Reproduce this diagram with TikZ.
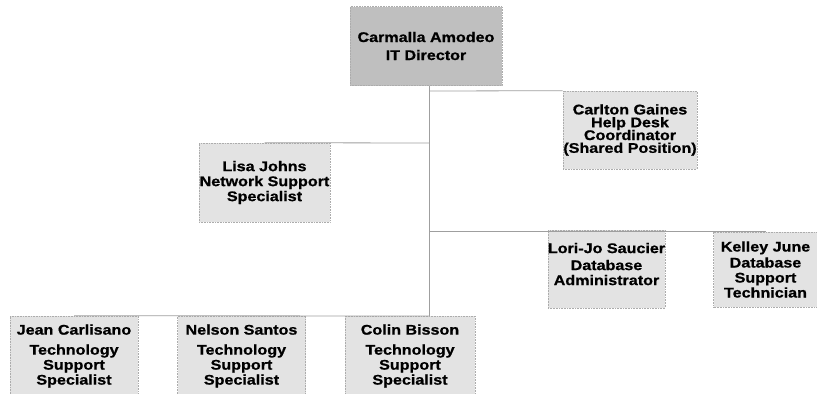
\documentclass[tikz,border=0pt]{standalone}
\usepackage{fontspec}
\newfontfamily\orgfont{Liberation Sans}[FakeStretch=1.15,BoldFeatures={FakeBold=0.8}]
\newcommand\orgtext{\orgfont\bfseries\fontsize{14bp}{15bp}\selectfont\setlength{\lineskiplimit}{-20bp}}
\newcommand\orgtight{\orgfont\bfseries\fontsize{14bp}{12.8bp}\selectfont\setlength{\lineskiplimit}{-20bp}}
\begin{document}
\begin{tikzpicture}[x=1bp,y=-1bp,
  box/.style={draw=gray!65, densely dotted, line width=0.6bp, fill=gray!22,
    inner sep=0pt, align=center, text=black, font=\orgtext},
  headbox/.style={box, fill=gray!50},
  conn/.style={draw=gray!75, line width=0.8bp}]
\useasboundingbox (0,0) rectangle (817,393);
\fill[white] (0,0) rectangle (817,393);

\node[headbox, minimum width=152bp, minimum height=79bp] (dir) at (426,46)
  {Carmalla Amodeo\\[3bp]IT Director};
\node[box, font=\orgtight, minimum width=134bp, minimum height=78bp] (carl) at (630,130)
  {Carlton Gaines\\Help Desk\\Coordinator\\(Shared Position)};
\node[box, minimum width=131bp, minimum height=79bp] (lisa) at (264.5,182.5)
  {Lisa Johns\\Network Support\\Specialist};
\node[box, minimum width=117bp, minimum height=78bp] (lori) at (606.5,269)
  {Lori-Jo Saucier\\[2bp]Database\\Administrator\\[-5bp]\mbox{}};
\node[box, minimum width=104bp, minimum height=75bp] (kell) at (765.5,269.5)
  {Kelley June\\[1bp]Database\\Support\\Technician};
\node[box, minimum width=128bp, minimum height=80bp] (jean) at (74,356)
  {Jean Carlisano\\[5bp]Technology\\Support\\Specialist};
\node[box, minimum width=128bp, minimum height=80bp] (nels) at (241.5,356)
  {Nelson Santos\\[5bp]Technology\\Support\\Specialist};
\node[box, minimum width=130bp, minimum height=80bp] (coli) at (410,356)
  {Colin Bisson\\[5bp]Technology\\Support\\Specialist};

\coordinate (tTop) at (429,86);
\coordinate (tCarl) at (429,91);
\coordinate (tLisa) at (429,143);
\coordinate (tRight) at (429,231);
\coordinate (tBot) at (429,316);

\draw[conn] (tTop) -- (tBot);
\draw[conn] (tCarl) -- (carl.north west);
\draw[conn] (tLisa) -- (lisa.north);
\draw[conn] (tRight) -- (tRight -| kell.north);
\draw[conn] (tBot) -- (jean.north);
\end{tikzpicture}
\end{document}
